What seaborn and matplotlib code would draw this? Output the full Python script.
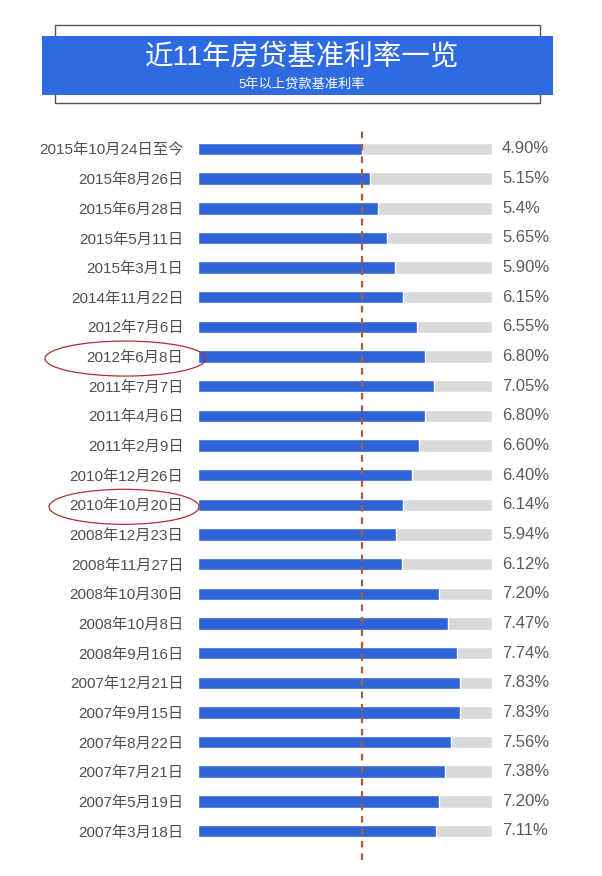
import matplotlib
matplotlib.use("Agg")
import matplotlib.pyplot as plt
from matplotlib.patches import Rectangle, Ellipse
import seaborn as sns
import pandas as pd

dates = ["2015年10月24日至今", "2015年8月26日", "2015年6月28日", "2015年5月11日", "2015年3月1日",
         "2014年11月22日", "2012年7月6日", "2012年6月8日", "2011年7月7日", "2011年4月6日",
         "2011年2月9日", "2010年12月26日", "2010年10月20日", "2008年12月23日", "2008年11月27日",
         "2008年10月30日", "2008年10月8日", "2008年9月16日", "2007年12月21日", "2007年9月15日",
         "2007年8月22日", "2007年7月21日", "2007年5月19日", "2007年3月18日"]
rates = [4.90, 5.15, 5.40, 5.65, 5.90, 6.15, 6.55, 6.80, 7.05, 6.80, 6.60, 6.40, 6.14,
         5.94, 6.12, 7.20, 7.47, 7.74, 7.83, 7.83, 7.56, 7.38, 7.20, 7.11]
rate_labels = ["4.90%", "5.15%", "5.4%", "5.65%", "5.90%", "6.15%", "6.55%", "6.80%", "7.05%",
               "6.80%", "6.60%", "6.40%", "6.14%", "5.94%", "6.12%", "7.20%", "7.47%", "7.74%",
               "7.83%", "7.83%", "7.56%", "7.38%", "7.20%", "7.11%"]
highlighted = ["2012年6月8日", "2010年10月20日"]
current_rate = 4.90
track_max = 8.8

title = "近11年房贷基准利率一览"
subtitle = "5年以上贷款基准利率"

sns.set_theme(style="white")
plt.rcParams['font.family'] = ['Liberation Sans', 'Noto Sans CJK SC', 'DejaVu Sans']

W, H = 602, 876
fig = plt.figure(figsize=(W / 100, H / 100), dpi=100)
fig.patch.set_facecolor("white")

# axes placement in pixel coordinates
x0, x1 = 198, 492
y_top, y_bot = 128, 860
ax = fig.add_axes([x0 / W, 1 - y_bot / H, (x1 - x0) / W, (y_bot - y_top) / H])

df = pd.DataFrame({"date": dates, "rate": rates, "track": [track_max] * len(dates)})

sns.barplot(data=df, x="track", y="date", orient="h", color="#d9d9d9", width=0.42,
            ax=ax, saturation=1)
sns.barplot(data=df, x="rate", y="date", orient="h", color="#2f63d8", width=0.42,
            ax=ax, saturation=1)

ax.set_xlim(0, track_max)
row_px = (831 - 149) / (len(dates) - 1)
ax.set_ylim((y_bot - 149) / row_px, -(149 - y_top) / row_px)

ax.axvline(current_rate, color="#a8603a", lw=1.6, ls=(0, (3.0, 2.6)), zorder=5)

for i, lab in enumerate(rate_labels):
    ax.text(track_max + 10 / ((x1 - x0) / track_max), i, lab, va="center", ha="left",
            fontsize=12, color="#5a5a5a", clip_on=False)

ax.set_xlabel("")
ax.set_ylabel("")
ax.set_xticks([])
ax.tick_params(axis="y", length=0, pad=10.5, labelsize=11, labelcolor="#4f4f4f")
for s in ax.spines.values():
    s.set_visible(False)
ax.set_facecolor("none")

# highlight ellipses around two dates
ell = {"2012年6月8日": (45, 206), "2010年10月20日": (49, 199)}
for d in highlighted:
    i = dates.index(d)
    yc = 149 + i * row_px + 2
    l, r = ell[d]
    e = Ellipse(((l + r) / 2 / W, 1 - yc / H), (r - l) / W, 35 / H, transform=fig.transFigure,
                fill=False, edgecolor="#b03030", lw=0.9)
    fig.add_artist(e)

# header
fig.add_artist(Rectangle((55 / W, 1 - 103 / H), (540 - 55) / W, (103 - 25) / H,
                         transform=fig.transFigure, fill=False, edgecolor="#555555", lw=1.0))
fig.add_artist(Rectangle((42 / W, 1 - 95 / H), (553 - 42) / W, (95 - 36) / H,
                         transform=fig.transFigure, facecolor="#2f6be0", edgecolor="none"))
fig.text(302 / W, 1 - 57 / H, title, ha="center", va="center", fontsize=20.5,
         fontweight="normal", color="white", family=['Liberation Sans', 'Noto Sans CJK SC'])
fig.text(302 / W, 1 - 85 / H, subtitle, ha="center", va="center", fontsize=9.5,
         color="white", family=['Liberation Sans', 'Noto Sans CJK SC'])

fig.savefig("out.png", dpi=100, facecolor="white")
